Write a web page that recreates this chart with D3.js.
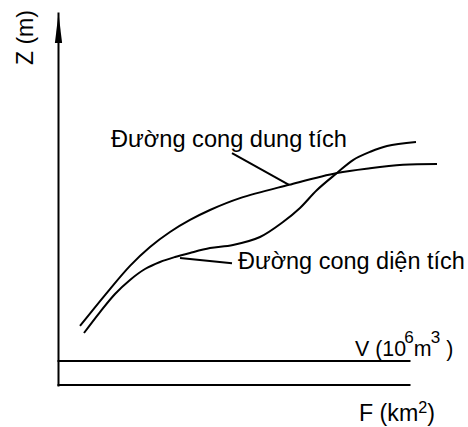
<!DOCTYPE html>
<html>
<head>
<meta charset="utf-8">
<script src="https://cdn.jsdelivr.net/npm/d3@7/dist/d3.min.js"></script>
<style>
  html, body { margin: 0; padding: 0; background: #fff; }
  svg { display: block; }
  text { font-family: "Liberation Sans", Arial, sans-serif; fill: #000; }
</style>
</head>
<body>
<script>
// ---- data (schematic units: x 0..100, Z 0..100) ----
const capacityX = [5.5, 11.75, 18, 23, 28, 33, 38, 45.5, 57.75, 69.75, 78, 86.25, 94.75];
const capacityZ = [15.95, 24.3, 32.2, 37.3, 41.35, 44.6, 47.3, 50.5, 54.1, 57.3, 58.6, 59.5, 59.7];
const areaX = [6.5, 10.5, 14.25, 18, 21.75, 25.5, 29.25, 33, 38, 43.75, 50.5, 56.25, 60.5, 64.75, 69.75, 73.75, 78, 82.25, 89.5];
const areaZ = [14.05, 19.7, 24.6, 28.4, 31.35, 33.25, 34.6, 35.7, 37.0, 37.85, 40.0, 44.05, 47.85, 52.7, 57.3, 60.8, 63.0, 64.6, 65.7];
const seriesLabels = ["Đường cong dung tích", "Đường cong diện tích"];
const zAxisLabel = "Z (m)";
const vAxisLabel = ["V (10", "6", "m", "3", " )"];
const fAxisLabel = ["F (km", "2", ")"];

const W = 468, H = 427;
const svg = d3.select("body").append("svg").attr("width", W).attr("height", H);

const x = d3.scaleLinear().domain([0, 100]).range([58, 458]);
const y = d3.scaleLinear().domain([0, 100]).range([385, 15]);

const axisEndX = 87.75;   // horizontal axes length (data units)
const vAxisZ = 6.5;       // V axis level
const zTop = 100.54;      // top of Z axis (arrow tip)

// Z axis
const yAxisScale = y.copy().domain([0, zTop]).range([y(0), y(zTop)]);
svg.append("g").attr("transform", `translate(${x(0)},0)`)
  .call(d3.axisLeft(yAxisScale).tickValues([]).tickSizeOuter(0))
  .call(g => g.select(".domain").attr("stroke", "#000").attr("stroke-width", 2).attr("stroke-linecap", "square"));

// arrow head
const tipX = x(0) + 0.5, tipY = y(zTop);
svg.append("path")
  .attr("d", `M${tipX},${tipY} L${tipX + 3.6},${tipY + 30} L${tipX - 3.6},${tipY + 30} Z`)
  .attr("fill", "#000");

// horizontal axes
const hScale = x.copy().domain([0, axisEndX]).range([x(0), x(axisEndX)]);
[0, vAxisZ].forEach(lv => {
  svg.append("g").attr("transform", `translate(0,${y(lv) - 0.5})`)
    .call(d3.axisBottom(hScale).tickValues([]).tickSizeOuter(0))
    .call(g => g.select(".domain").attr("stroke", "#000").attr("stroke-width", 2).attr("stroke-linecap", "square"));
});

// curves
const line = d3.line().x(d => x(d[0])).y(d => y(d[1])).curve(d3.curveCatmullRom.alpha(0.5));
svg.append("path").datum(d3.zip(capacityX, capacityZ))
  .attr("d", line).attr("fill", "none").attr("stroke", "#000").attr("stroke-width", 2);
svg.append("path").datum(d3.zip(areaX, areaZ))
  .attr("d", line).attr("fill", "none").attr("stroke", "#000").attr("stroke-width", 2);

// leader lines
const leaders = [
  [[43.5, 62.7], [57.75, 54.1]],
  [[30.5, 34.3], [43.5, 32.9]]
];
leaders.forEach(l => {
  svg.append("line")
    .attr("x1", x(l[0][0])).attr("y1", y(l[0][1]))
    .attr("x2", x(l[1][0])).attr("y2", y(l[1][1]))
    .attr("stroke", "#000").attr("stroke-width", 2);
});

// fit a text element to a target width by adjusting its font-size
function fit(sel, size, target) {
  sel.attr("font-size", size);
  const len = sel.node().getComputedTextLength();
  if (len > 0) sel.attr("font-size", size * target / len);
  return sel;
}

// series labels
fit(svg.append("text").attr("x", 111).attr("y", 147).text(seriesLabels[0]), 23, 236);
fit(svg.append("text").attr("x", 238).attr("y", 269).text(seriesLabels[1]), 23, 227);

// Z label
fit(svg.append("text").attr("transform", "translate(33,65) rotate(-90)").text(zAxisLabel), 23, 55);

// V label
const vt = svg.append("text").attr("x", 355).attr("y", 356);
vt.append("tspan").text(vAxisLabel[0]);
vt.append("tspan").attr("font-size", "0.8em").attr("dy", "-0.75em").attr("dx", "-0.1em").text(vAxisLabel[1]);
vt.append("tspan").attr("dy", "0.6em").text(vAxisLabel[2]);
vt.append("tspan").attr("font-size", "0.8em").attr("dy", "-0.75em").attr("dx", "-0.05em").text(vAxisLabel[3]);
vt.append("tspan").attr("dy", "0.6em").text(vAxisLabel[4]);
fit(vt, 20, 101);

// F label
const ft = svg.append("text").attr("x", 359).attr("y", 421);
ft.append("tspan").text(fAxisLabel[0]);
ft.append("tspan").attr("font-size", "0.7em").attr("dy", "-0.48em").text(fAxisLabel[1]);
ft.append("tspan").attr("dy", "0.336em").text(fAxisLabel[2]);
fit(ft, 23, 76);
</script>
</body>
</html>
